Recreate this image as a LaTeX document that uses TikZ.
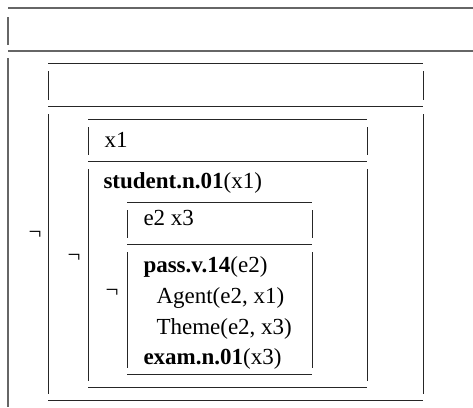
\documentclass[tikz,border=0pt]{standalone}
\usepackage{fontspec}
\setmainfont{Liberation Serif}

% one DRS frame: left, right, top, middle, bottom
\newcommand{\drsframe}[5]{%
  \draw (#1,#3) -- (#2,#3);
  \draw (#1,#3+8) -- (#1,#4-6);
  \draw (#2,#3+8) -- (#2,#4-6);
  \draw (#1,#4) -- (#2,#4);
  \draw (#1,#4+8) -- (#1,#5-6);
  \draw (#2,#4+8) -- (#2,#5-6);
  \draw (#1,#5) -- (#2,#5);
}

\begin{document}
\begin{tikzpicture}
    [x=1pt,y=-1pt,line width=1pt,draw=black!85,
     every node/.style={inner sep=0pt,anchor=base west,font=\fontsize{23}{28}\selectfont}]
    \useasboundingbox (0,0) rectangle (473,407);

    % outermost box, running off the page
    \draw [black!60,line width=1.3pt] (8,8) -- (473,8);
    \draw [black!60,line width=1.3pt] (8,17) -- (8,45);
    \draw [black!60,line width=1.3pt] (8,51) -- (473,51);
    \draw [black!60,line width=1.3pt] (8,58) -- (8,407);

    \node (neg1) at (28,239) {¬};
    \drsframe{48}{423}{63}{106}{400}

    \node (neg2) at (67,262) {¬};
    \drsframe{88}{367}{119}{161}{387}
    \node (u1) at (104,147) {x1};
    \node (c1) at (103,188) {\textbf{student.n.01}(x1)};

    \node (neg3) at (105,297) {¬};
    \drsframe{127}{312}{202}{244}{374}
    \node (u2) at (143,225) {e2 x3};
    \node (c2) at (143,272) {\textbf{pass.v.14}(e2)};
    \node (c3) at (156,303) {Agent(e2, x1)};
    \node (c4) at (156,334) {Theme(e2, x3)};
    \node (c5) at (143,364) {\textbf{exam.n.01}(x3)};
  \end{tikzpicture}
\end{document}
